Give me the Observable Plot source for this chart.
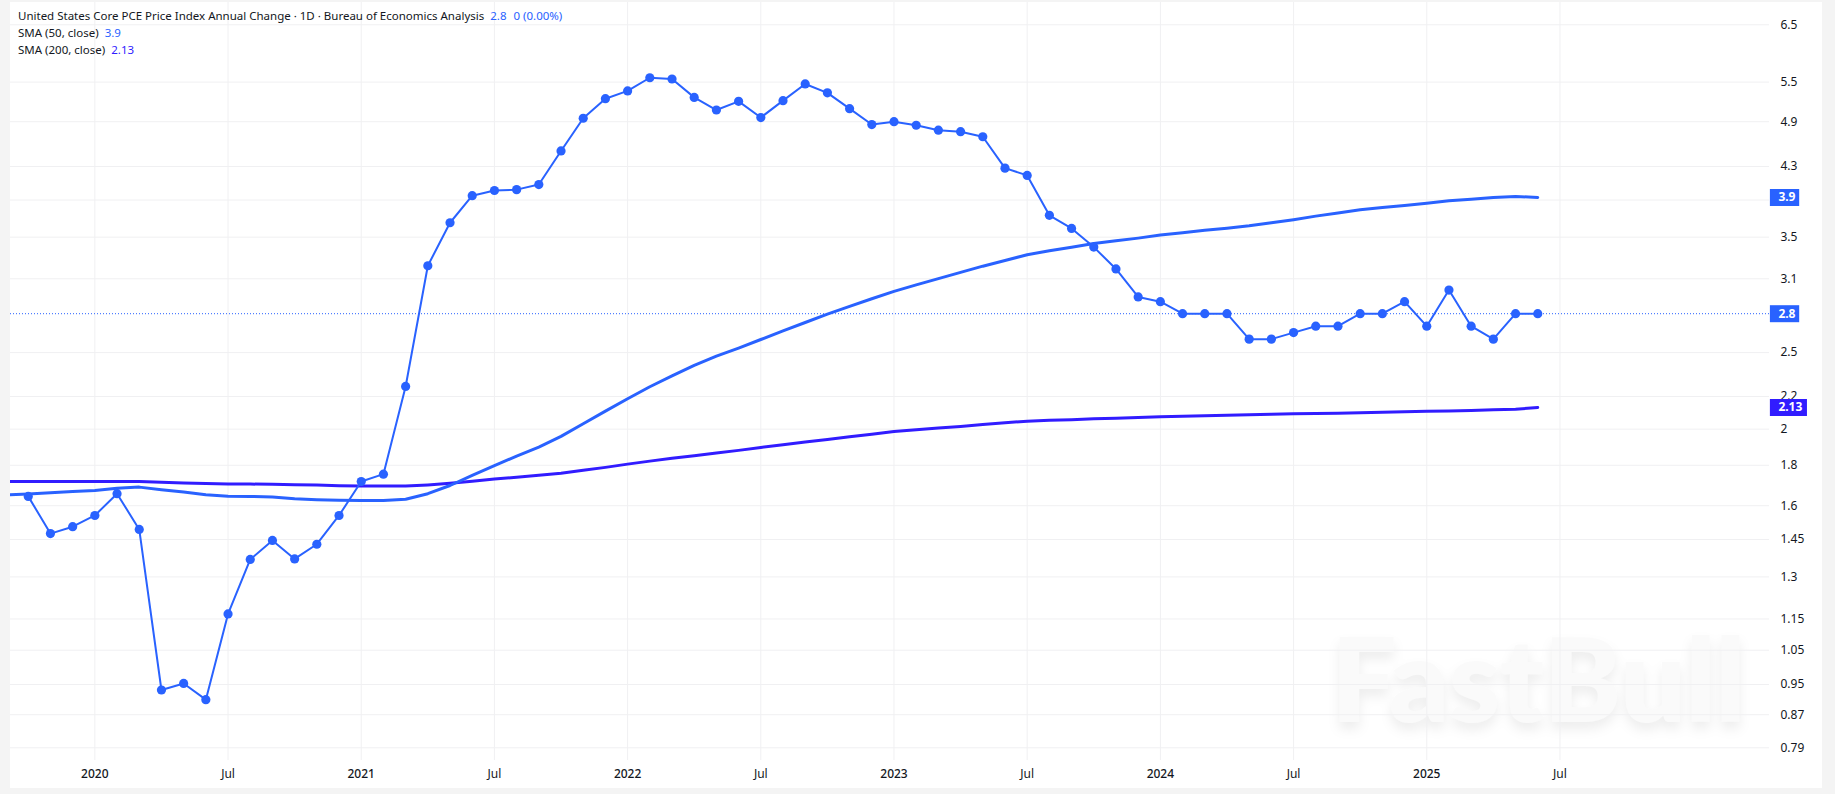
<!DOCTYPE html>
<html>
<head>
<meta charset="utf-8">
<script src="https://cdn.jsdelivr.net/npm/d3@7"></script>
<script src="https://cdn.jsdelivr.net/npm/@observablehq/plot@0.6"></script>
<style>
  html, body { margin: 0; padding: 0; background: #f4f4f4; overflow: hidden; }
  body { width: 1835px; height: 794px; position: relative; font-family: "Noto Sans", sans-serif; }
  #panel { position: absolute; left: 10px; top: 2px; width: 1812px; height: 786px; background: #fff; }
  #chart { position: absolute; left: 0; top: 0; }
  #legend { position: absolute; left: 18px; top: 7px; font-size: 11.5px; line-height: 17px; color: #131722; white-space: nowrap; }
  #legend .a { color: #2962ff; margin-left: 3px; }
  #legend .b { color: #311cff; margin-left: 3px; }
</style>
</head>
<body>
<div id="panel"></div>
<div id="chart"></div>
<div id="legend">
<div>United States Core PCE Price Index Annual Change · 1D · Bureau of Economics Analysis <span class="a">2.8</span><span class="a" style="margin-left:7px">0 (0.00%)</span></div>
<div>SMA (50, close) <span class="a">3.9</span></div>
<div>SMA (200, close) <span class="b">2.13</span></div>
</div>
<script>
// Monthly readings, Oct 2019 to Jun 2025
const closeValues = [
  1.644, 1.475, 1.505,
  1.555, 1.657, 1.493, 0.935, 0.953, 0.909, 1.167, 1.368, 1.446, 1.37, 1.43, 1.555,
  1.717, 1.754, 2.265, 3.22, 3.65, 3.95, 4.01, 4.02, 4.08, 4.5, 4.95, 5.24,
  5.36, 5.57, 5.55, 5.26, 5.07, 5.2, 4.96, 5.21, 5.47, 5.33, 5.09, 4.86,
  4.9, 4.85, 4.78, 4.76, 4.69, 4.28, 4.19, 3.73, 3.59, 3.4, 3.19, 2.94,
  2.9, 2.8, 2.8, 2.8, 2.6, 2.6, 2.65, 2.7, 2.7, 2.8, 2.8, 2.9,
  2.7, 3.0, 2.7, 2.6, 2.8, 2.8
];
// Moving averages, Sep 2019 to Jun 2025
const sma50Values = [
  1.651, 1.655, 1.661, 1.667,
  1.673, 1.684, 1.689, 1.676, 1.665, 1.652, 1.645, 1.644, 1.641, 1.633, 1.628, 1.625,
  1.624, 1.624, 1.63, 1.657, 1.697, 1.748, 1.798, 1.849, 1.898, 1.958, 2.032, 2.108,
  2.185, 2.263, 2.336, 2.408, 2.474, 2.533, 2.597, 2.663, 2.729, 2.796, 2.86, 2.925,
  2.988, 3.045, 3.101, 3.158, 3.216, 3.27, 3.325, 3.364, 3.399, 3.436, 3.464, 3.49,
  3.521, 3.546, 3.57, 3.593, 3.618, 3.65, 3.683, 3.721, 3.755, 3.791, 3.816, 3.838,
  3.864, 3.891, 3.909, 3.929, 3.941, 3.929
];
const sma200Values = [
  1.717, 1.717, 1.717, 1.717,
  1.717, 1.717, 1.717, 1.713, 1.71, 1.707, 1.705, 1.704, 1.703, 1.701, 1.699, 1.696,
  1.694, 1.694, 1.694, 1.7, 1.708, 1.718, 1.729, 1.738, 1.748, 1.759, 1.774, 1.789,
  1.806, 1.822, 1.837, 1.851, 1.865, 1.88, 1.896, 1.911, 1.926, 1.94, 1.956, 1.971,
  1.986, 1.996, 2.006, 2.016, 2.027, 2.037, 2.047, 2.052, 2.056, 2.061, 2.065, 2.069,
  2.073, 2.076, 2.079, 2.082, 2.085, 2.088, 2.091, 2.093, 2.095, 2.098, 2.101, 2.104,
  2.107, 2.109, 2.112, 2.116, 2.12, 2.13
];
const yTicks = [6.5, 5.5, 4.9, 4.3, 3.9, 3.5, 3.1, 2.5, 2.2, 2, 1.8, 1.6, 1.45, 1.3, 1.15, 1.05, 0.95, 0.87, 0.79];
const yearTicks = [0, 12, 24, 36, 48, 60];
const yearLabels = ["2020", "2021", "2022", "2023", "2024", "2025"];
const julTicks = [6, 18, 30, 42, 54, 66];
const endLabels = [
  {value: 3.929, text: "3.9", color: "#2962ff", end: 76.8},
  {value: 2.13, text: "2.13", color: "#311cff", end: 77.15},
  {value: 2.8, text: "2.8", color: "#2962ff", end: 76.8}
];

const closeSeries = closeValues.map((v, i) => ({m: i - 3, v}));
const sma50Series = sma50Values.map((v, i) => ({m: i - 4, v}));
const sma200Series = sma200Values.map((v, i) => ({m: i - 4, v}));
const xDomain = [-3.8, 75.44];
const main = "#2962ff", violet = "#311cff", gridColor = "#f0f0f2";

const plot = Plot.plot({
  width: 1835,
  height: 794,
  marginLeft: 10,
  marginRight: 66,
  marginTop: 2,
  marginBottom: 34,
  style: {background: "transparent", fontFamily: '"Noto Sans", sans-serif', fontSize: "12px", color: "#131722"},
  x: {type: "linear", domain: xDomain, axis: null},
  y: {type: "log", domain: [0.7613, 6.936], axis: null},
  marks: [
    Plot.text(["FastBull"], {
      frameAnchor: "bottom-right", dx: -24, dy: -39, text: d => d,
      fontSize: 115, fontWeight: 800, fontFamily: "Lato, sans-serif",
      fill: "#fafafa", lineAnchor: "bottom",
      imageFilter: "drop-shadow(0 7px 6px rgba(0,0,0,0.07))"
    }),
    Plot.ruleY(yTicks, {stroke: gridColor, strokeWidth: 1}),
    Plot.ruleX([...yearTicks, ...julTicks], {stroke: gridColor, strokeWidth: 1}),
    Plot.ruleY([2.8], {x1: xDomain[0], x2: xDomain[1], stroke: main, strokeWidth: 1, strokeDasharray: "1 2"}),
    Plot.line(sma200Series, {x: "m", y: "v", stroke: violet, strokeWidth: 3, clip: true}),
    Plot.line(sma50Series, {x: "m", y: "v", stroke: main, strokeWidth: 3, clip: true}),
    Plot.line(closeSeries, {x: "m", y: "v", stroke: main, strokeWidth: 2}),
    Plot.dot(closeSeries, {x: "m", y: "v", r: 4.6, fill: main, stroke: "none"}),
    Plot.axisY({anchor: "right", ticks: yTicks, tickSize: 0, tickPadding: 11, tickFormat: d => String(d), label: null, fontSize: 12, fill: "#131722"}),
    Plot.axisX({anchor: "bottom", ticks: yearTicks, tickSize: 0, tickPadding: 9, tickFormat: (d, i) => yearLabels[i], label: null, fontWeight: 500, fill: "#131722"}),
    Plot.axisX({anchor: "bottom", ticks: julTicks, tickSize: 0, tickPadding: 9, tickFormat: () => "Jul", label: null, fill: "#131722"}),
    Plot.ruleY(endLabels, {y: "value", x1: 75.48, x2: "end", stroke: "color", strokeWidth: 17}),
    Plot.text(endLabels, {y: "value", x: 75.48, dx: 8, text: "text", fill: "#fff", fontWeight: 700, fontSize: 12, textAnchor: "start"})
  ]
});
document.getElementById("chart").append(plot);
</script>
</body>
</html>
